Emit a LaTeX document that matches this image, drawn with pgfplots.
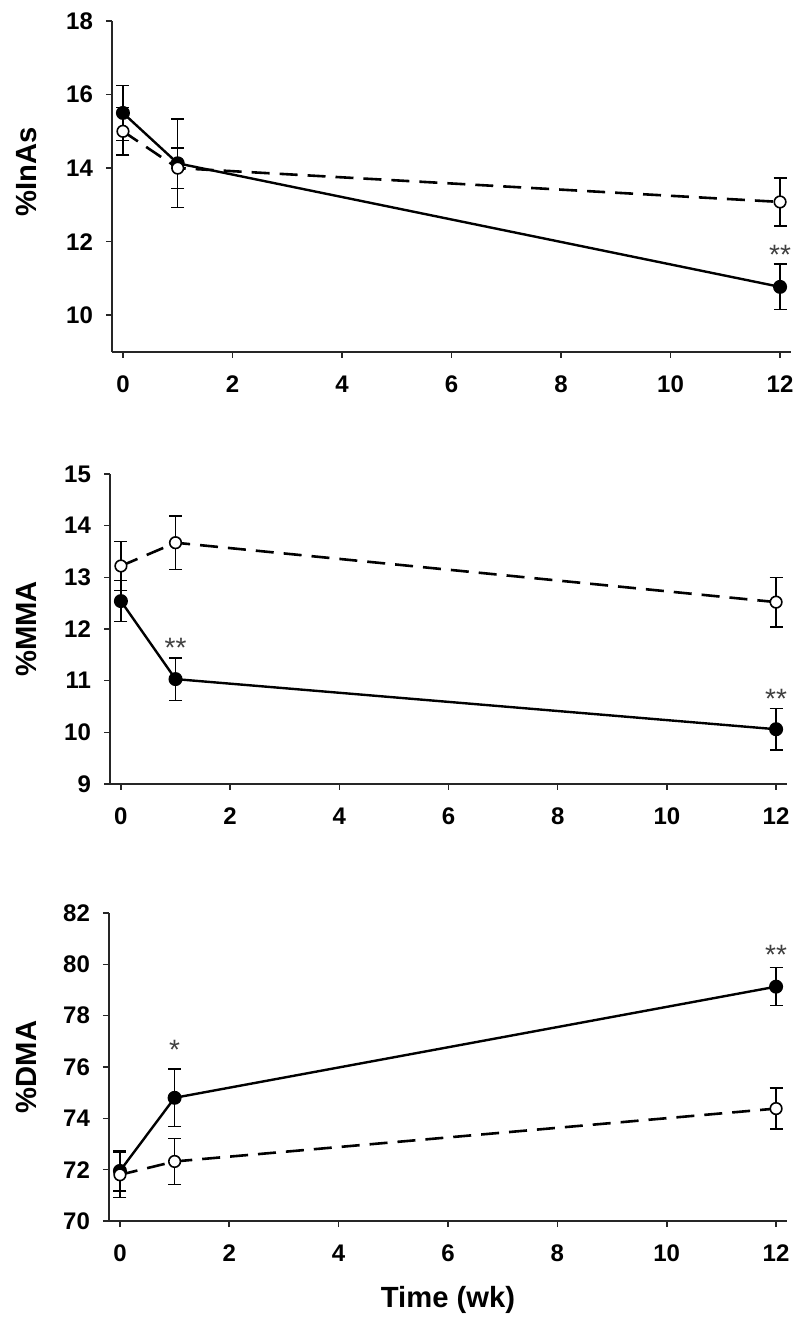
\documentclass[border=0pt]{standalone}
\usepackage{fontspec}
\setmainfont{Liberation Sans}
\usepackage{pgfplots}
\pgfplotsset{compat=1.18}

\pgfplotsset{
  panel/.style={
    scale only axis,
    xmin=-0.2, xmax=12.2,
    xtick={0,2,...,12},
    axis x line*=bottom, axis y line*=left,
    axis line style={-, line width=0.9pt, black!85},
    tick style={line width=0.8pt, black!85},
    tick align=outside,
    major tick length=3pt,
    /pgf/number format/assume math mode=true,
    tick label style={font=\bfseries\fontsize{12}{14}\selectfont},
    xticklabel style={yshift=-5.5pt},
    yticklabel style={xshift=-3pt},
    label style={font=\bfseries\fontsize{14.6}{17}\selectfont},
    clip=false,
  },
  filled/.style={solid, black, line width=1.2pt, mark=*, mark size=2.9pt,
    mark options={solid, fill=black},
    error bars/.cd, y dir=both, y explicit,
    error bar style={line width=0.7pt, solid},
    error mark options={rotate=90, mark size=3.25pt, line width=0.7pt}},
  open/.style={black, line width=1.3pt, dash pattern=on 9pt off 5pt,
    mark=*, mark size=2.9pt,
    mark options={solid, fill=white, draw=black, line width=0.8pt},
    error bars/.cd, y dir=both, y explicit,
    error bar style={line width=0.7pt, solid},
    error mark options={rotate=90, mark size=3.25pt, line width=0.7pt}},
}
\tikzset{star/.style={font=\fontsize{14}{16}\selectfont, text=black!75}}

\begin{document}
\begin{tikzpicture}
\useasboundingbox (0,0) rectangle (400pt,663.5pt);

% %InAs
\begin{axis}[panel, at={(56pt,487.5pt)}, anchor=south west,
  width=339.5pt, height=165.5pt,
  ymin=9, ymax=18, ytick={10,12,...,18},
  ylabel={\%InAs},
  ylabel style={at={(axis description cs:-0.126,0.544)}, anchor=center}]
\addplot+[filled] coordinates {
  (0,15.50) +- (0,0.75)
  (1,14.13) +- (0,1.20)
  (12,10.77) +- (0,0.62)
};
\addplot+[open] coordinates {
  (0,15.00) +- (0,0.64)
  (1,14.00) +- (0,0.55)
  (12,13.08) +- (0,0.65)
};
\node[star] at (axis cs:12,11.65) {**};
\end{axis}

% %MMA
\begin{axis}[panel, at={(55pt,271.5pt)}, anchor=south west,
  width=338.5pt, height=155pt,
  ymin=9, ymax=15, ytick={9,10,...,15},
  ylabel={\%MMA},
  ylabel style={at={(axis description cs:-0.123,0.5)}, anchor=center}]
\addplot+[filled] coordinates {
  (0,12.54) +- (0,0.40)
  (1,11.03) +- (0,0.41)
  (12,10.06) +- (0,0.40)
};
\addplot+[open] coordinates {
  (0,13.22) +- (0,0.47)
  (1,13.67) +- (0,0.52)
  (12,12.52) +- (0,0.48)
};
\node[star] at (axis cs:1,11.64) {**};
\node[star] at (axis cs:12,10.65) {**};
\end{axis}

% %DMA
\begin{axis}[panel, at={(54.5pt,53pt)}, anchor=south west,
  width=339pt, height=154pt,
  ymin=70, ymax=82, ytick={70,72,...,82},
  ylabel={\%DMA},
  ylabel style={at={(axis description cs:-0.122,0.5)}, anchor=center},
  xlabel={Time (wk)},
  xlabel style={at={(axis description cs:0.5,-0.256)}, anchor=center}]
\addplot+[filled] coordinates {
  (0,71.95) +- (0,0.78)
  (1,74.80) +- (0,1.12)
  (12,79.13) +- (0,0.74)
};
\addplot+[open] coordinates {
  (0,71.80) +- (0,0.88)
  (1,72.32) +- (0,0.90)
  (12,74.38) +- (0,0.80)
};
\node[star] at (axis cs:1,76.65) {*};
\node[star] at (axis cs:12,80.35) {**};
\end{axis}
\end{tikzpicture}
\end{document}
